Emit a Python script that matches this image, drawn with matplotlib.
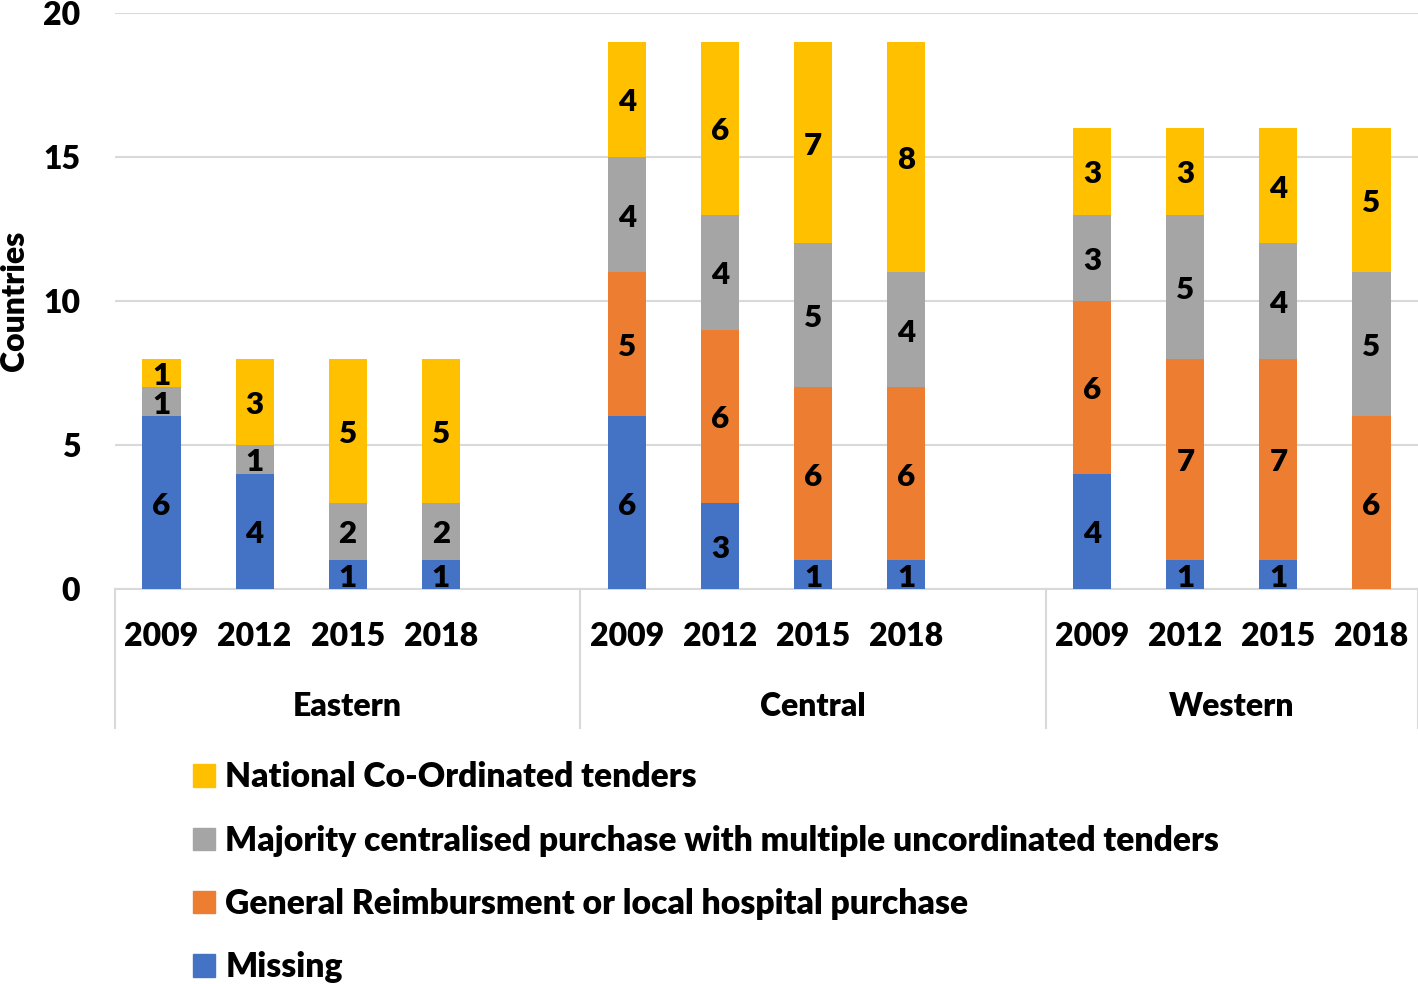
import matplotlib.pyplot as plt
import matplotlib.transforms as mtransforms
from matplotlib.patches import Patch
import numpy as np

plt.rcParams['font.family'] = ['Lato', 'DejaVu Sans']
W = 'heavy'

regions = ['Eastern', 'Central', 'Western']
years = ['2009', '2012', '2015', '2018']

missing = [6, 4, 1, 1, 6, 3, 1, 1, 4, 1, 1, 0]
general = [0, 0, 0, 0, 5, 6, 6, 6, 6, 7, 7, 6]
majority = [1, 1, 2, 2, 4, 4, 5, 4, 3, 5, 4, 5]
national = [1, 3, 5, 5, 4, 6, 7, 8, 3, 3, 4, 5]

series = [
    ('Missing', missing, '#4472C4'),
    ('General Reimbursment or local hospital purchase', general, '#ED7D31'),
    ('Majority centralised purchase with multiple uncordinated tenders', majority, '#A5A5A5'),
    ('National Co-Ordinated tenders', national, '#FFC000'),
]

# 5 slots per region: 4 years + 1 gap
x_pos = [g * 5 + i for g in range(len(regions)) for i in range(len(years))]

fig = plt.figure(figsize=(14.18, 9.84), dpi=100)
ax = fig.add_axes([115 / 1418, 1 - 589 / 984, 1303 / 1418, 576 / 984])
lbl_trans = mtransforms.offset_copy(ax.transData, fig, y=-3, units='dots')

bottom = np.zeros(len(x_pos))
handles = []
for name, vals, color in series:
    vals = np.array(vals)
    ax.bar(x_pos, vals, 0.41, bottom=bottom, color=color, zorder=3)
    for x, v, b in zip(x_pos, vals, bottom):
        if v > 0:
            ax.text(x, b + v / 2, str(v), ha='center', va='center', transform=lbl_trans,
                    fontsize=22.5, fontweight=W, zorder=4)
    bottom += vals
    handles.append(Patch(color=color, label=name))

xmin, xmax = -0.5, 13.5
ax.set_xlim(xmin, xmax)
ax.set_ylim(0, 20)
ax.set_yticks([0, 5, 10, 15, 20])
ax.grid(axis='y', color='#d9d9d9', linewidth=1.5, zorder=0)
ax.tick_params(axis='y', length=0, pad=25, labelsize=23)
ax.tick_params(axis='x', length=0, pad=24, labelsize=23)
ax.set_xticks(x_pos)
ax.set_xticklabels(years * len(regions))
for lbl in ax.get_xticklabels() + ax.get_yticklabels():
    lbl.set_fontweight(W)
for s in ['top', 'right', 'left']:
    ax.spines[s].set_visible(False)
ax.spines['bottom'].set_color('#d9d9d9')
ax.spines['bottom'].set_linewidth(1.5)

ax.set_ylabel('Countries', fontsize=23, fontweight=W)
ax.yaxis.set_label_coords(-0.066, 0.5)

trans = mtransforms.blended_transform_factory(ax.transData, ax.transAxes)
edges = [xmin, 4.5, 9.5, xmax]
for g, region in enumerate(regions):
    ax.text((edges[g] + edges[g + 1]) / 2, -0.204, region, transform=trans,
            ha='center', va='center', fontsize=23, fontweight=W)
for xs in edges:
    ax.plot([xs, xs], [0, -0.241], transform=trans, color='#d9d9d9',
            linewidth=1.5, clip_on=False)

fig.legend(handles=handles[::-1], loc='upper left', bbox_to_anchor=(180 / 1418, 1 - 748 / 984),
           frameon=False, handlelength=0.65, handleheight=0.65,
           handletextpad=0.3, labelspacing=0.93, borderaxespad=0,
           prop={'weight': W, 'size': 24.2})

fig.savefig('out.png', dpi=100)
